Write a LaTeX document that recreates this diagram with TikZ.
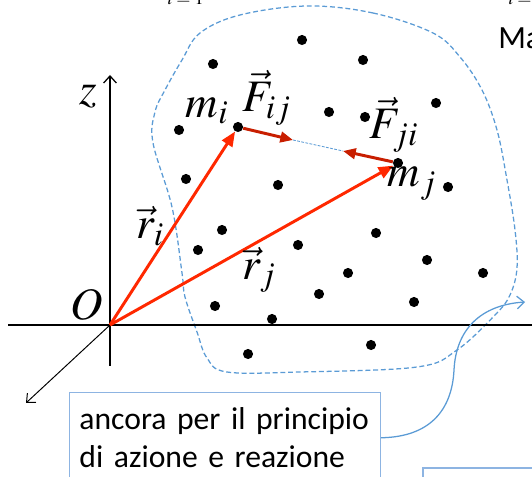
\documentclass[tikz,border=0pt]{standalone}
\usepackage{mathptmx}
\usepackage[no-math]{fontspec}
\setmainfont{Carlito}
\usepackage{xcolor}
\usetikzlibrary{arrows.meta}
\definecolor{vecred}{RGB}{255,40,0}
\definecolor{forcered}{RGB}{200,30,0}
\definecolor{sysblue}{RGB}{91,155,213}
\definecolor{noteblue}{RGB}{141,180,226}
\tikzset{
  % particles and labels
  particle/.style={circle, fill=black, inner sep=0pt, minimum size=7.2pt},
  lbl/.style={font=\fontsize{32}{34}\selectfont, inner sep=0pt},
  slide/.style={font=\fontsize{23}{27}\selectfont, inner sep=0pt},
  % vectors
  posvec/.style={-{Triangle[length=10.5pt,width=8.5pt]}, vecred, line width=2.1pt},
  forcevec/.style={-{Triangle[length=9pt,width=7.5pt]}, forcered, line width=2.1pt},
  axisline/.style={line width=0.9pt},
  % system boundary and note
  system/.style={sysblue, dash pattern=on 3.5pt off 2pt, line width=0.9pt},
  notebox/.style={rectangle, draw=noteblue, line width=0.9pt, anchor=north west, align=left, text width=207pt, inner xsep=7pt, inner ysep=10.7pt, font=\fontsize{22.5}{27}\selectfont},
  callout/.style={-{Straight Barb[length=5pt,width=9pt]}, sysblue, line width=0.9pt},
}
\begin{document}
\begin{tikzpicture}[x=0.025cm, y=-0.025cm]
  \useasboundingbox (0,0) rectangle (532,477);
  % cut-off slide text
  \node[anchor=base west, inner sep=0pt, font=\fontsize{13}{15}\selectfont] (sumA) at (167,5) {$i=1$};
  \node[anchor=base west, inner sep=0pt, font=\fontsize{13}{15}\selectfont] (sumB) at (508,5) {$i=1$};
  \node[slide, anchor=base west] (title) at (498,49) {Ma};
  % system boundary
  \draw[system] plot[smooth cycle, tension=0.6] coordinates {
    (307,6) (373,13) (433,33) (460,57) (482,90) (497,130) (507,180) (515,230)
    (517,268) (510,295) (495,315) (457,350) (417,367) (300,372) (227,372)
    (207,358) (197,332) (185,297) (182,273) (172,207) (153,143) (155,112)
    (165,90) (182,60) (200,33) (240,15)};
  % axes
  \coordinate (O) at (110,325);
  \coordinate (xl) at (8,325);
  \coordinate (xr) at (532,325);
  \coordinate (ztop) at (110,75);
  \coordinate (zbot) at (110,366);
  \coordinate (ytip) at (26,403);
  \draw[axisline] (xl) -- (xr);
  \draw[axisline, -{Straight Barb[length=5pt,width=9pt]}] (zbot) -- (ztop);
  \draw[line width=0.7pt, -{Straight Barb[length=5pt,width=9pt]}] (O) -- (ytip);
  \node[lbl] (zlab) at (88,97) {$z$};
  \node[lbl] (Olab) at (87,305) {$O$};
  % particles
  \foreach \x/\y [count=\n] in {302/40, 213/64, 363/60, 436/103, 329/112, 365/117,
      179/130, 186/179, 278/185, 448/187, 222/230, 376/233, 198/250, 298/245,
      427/260, 348/273, 483/273, 319/294, 414/302, 215/306, 272/319, 248/354, 371/345} {
    \node[particle] (p\n) at (\x,\y) {};
  }
  \node[particle] (mi) at (238,127) {};
  \node[particle] (mj) at (398,163) {};
  % position vectors
  \draw[posvec] (O) -- (mi);
  \draw[posvec] (O) -- (mj);
  % internal forces
  \coordinate (Fij) at (293,140);
  \coordinate (Fji) at (343,151);
  \draw[sysblue, dash pattern=on 2pt off 1pt, line width=0.6pt] (Fij) -- (Fji);
  \draw[forcevec] (mi) -- (Fij);
  \draw[forcevec] (mj) -- (Fji);
  % labels
  \node[lbl] (milab) at (207,111) {$m_i$};
  \node[lbl] (mjlab) at (412,184) {$m_j$};
  \node[lbl] (Fijlab) at (267,98) {$\vec{F}_{ij}$};
  \node[lbl] (Fjilab) at (394,125) {$\vec{F}_{ji}$};
  \node[lbl] (rilab) at (150,226) {$\vec{r}_i$};
  \node[lbl] (rjlab) at (259,270) {$\vec{r}_j$};
  % note with callout
  \node[notebox] (note) at (69,392) {ancora per il principio\\di azione e reazione};
  \coordinate (bend) at (454,370);
  \coordinate (target) at (525,302);
  \draw[callout] (note.east) .. controls (430,437) and (452,410) .. (bend)
    .. controls (456,330) and (480,305) .. (target);
  \draw[noteblue, line width=0.9pt] (423,468) rectangle (560,520);
\end{tikzpicture}
\end{document}
